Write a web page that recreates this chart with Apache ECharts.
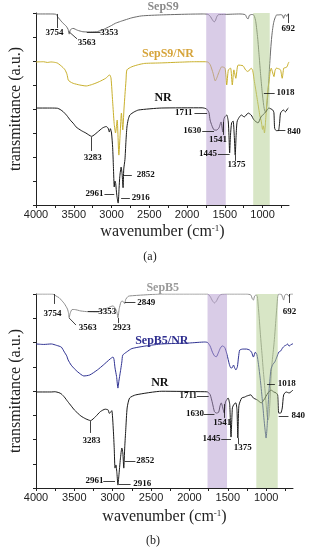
<!DOCTYPE html>
<html><head><meta charset="utf-8">
<script src="https://cdn.jsdelivr.net/npm/echarts@6/dist/echarts.min.js"></script>
<style>html,body{margin:0;padding:0;background:#fff}#c{width:309px;height:550px}</style>
</head><body><div id="c"></div>
<script>
// ---------- DATA (wavenumber cm-1, transmittance in axis units 0..8) ----------
const xTicks = [4000,3750,3500,3250,3000,2750,2500,2250,2000,1750,1500,1250,1000,750];
const xLabels = [4000,3500,3000,2500,2000,1500,1000];

// Panel (a)
const sepS9_wn = [4000,3790,3730,3715,3690,3650,3600,3575,3560,3545,3510,3450,3380,3300,3200,3130,3077,3000,2950,2880,2822,2731,2600,2340,2000,1780,1720,1690,1665,1640,1625,1605,1585,1500,1300,1230,1205,1190,1175,1140,1112,1090,1065,1045,1025,1005,985,970,957,945,930,918,905,892,879,866,853,840,827,814,790,760,735,722,710,695,680,665,650];
const sepS9_T  = [7.96,7.96,7.94,7.85,7.75,7.6,7.45,7.32,7.12,7.3,7.36,7.28,7.22,7.21,7.22,7.28,7.36,7.48,7.57,7.65,7.71,7.8,7.88,7.92,7.95,7.96,7.94,7.85,7.72,7.63,7.68,7.85,7.93,7.94,7.96,7.93,7.78,7.76,7.9,7.94,7.9,7.64,6.96,6.2,5.4,4.7,4.15,3.9,3.88,4.1,4.6,5.2,5.9,6.5,7.0,7.35,7.6,7.75,7.85,7.92,7.92,7.93,7.9,7.78,7.9,7.93,7.86,7.95,7.96];

const sepS9NR_wn = [4000,3900,3850,3800,3767,3720,3680,3640,3615,3590,3573,3551,3508,3421,3335,3249,3162,3077,3025,3007,2985,2965,2947,2925,2903,2885,2869,2851,2835,2822,2808,2796,2731,2640,2559,2342,2100,1900,1760,1720,1691,1656,1626,1605,1582,1540,1497,1475,1453,1423,1401,1380,1354,1324,1259,1225,1194,1151,1130,1108,1090,1070,1050,1035,1018,1000,990,975,960,945,930,914,900,885,870,849,835,818,790,762,740,720,700,676,660,650];
const sepS9NR_T  = [5.96,5.97,5.94,5.96,5.95,5.92,5.83,5.72,5.63,5.45,5.21,5.14,5.07,5.0,4.96,5.03,5.14,5.28,5.42,5.29,4.3,3.4,3.0,3.54,2.08,3.0,3.83,3.13,4.0,4.6,5.2,5.63,5.76,5.85,5.9,5.92,5.95,5.97,5.97,5.95,5.83,5.5,5.17,5.3,5.5,5.76,5.7,5.0,5.63,5.7,5.0,5.63,5.28,5.83,5.8,5.63,5.56,5.7,5.6,5.14,4.8,4.4,4.0,3.7,3.5,3.15,3.3,3.0,3.5,4.2,4.8,5.14,5.55,5.7,5.55,5.35,5.6,5.7,5.68,5.63,5.28,5.7,5.72,5.76,5.9,5.96];

const nrA_wn = [4000,3800,3715,3680,3637,3590,3547,3500,3469,3400,3340,3262,3230,3184,3119,3070,3045,3029,3015,3000,2985,2975,2964,2955,2945,2930,2912,2900,2890,2873,2860,2847,2838,2822,2810,2796,2780,2757,2700,2640,2342,1800,1740,1710,1695,1670,1643,1610,1578,1550,1527,1514,1501,1475,1455,1445,1436,1425,1410,1390,1375,1362,1350,1335,1281,1242,1190,1151,1112,1060,1021,957,918,866,850,840,820,790,775,762,724,698,659,650];
const nrA_T  = [4.04,4.04,4.03,3.98,3.88,3.72,3.54,3.38,3.25,3.1,3.0,2.86,2.92,3.04,3.21,3.27,3.2,3.04,3.18,3.0,2.4,1.6,0.75,1.0,0.9,0.4,0.08,0.7,1.2,1.58,1.3,0.72,1.5,1.9,2.6,3.25,3.55,3.75,3.88,3.96,4.04,4.05,4.0,3.85,3.54,3.3,3.13,3.12,3.21,3.46,3.04,3.55,3.67,3.75,3.5,2.9,2.17,2.9,3.42,3.5,2.9,2.08,2.9,3.5,3.75,3.67,3.83,3.75,3.54,3.42,3.67,3.88,4.04,3.96,3.85,3.2,3.1,3.1,3.4,3.83,3.96,3.88,4.04,4.04];

// Panel (b)
const sepB5_wn = [4000,3800,3765,3740,3700,3670,3630,3590,3575,3568,3555,3530,3500,3415,3326,3200,3140,3072,2996,2965,2945,2932,2915,2895,2881,2860,2845,2830,2800,2780,2600,2360,2000,1800,1763,1730,1700,1674,1650,1620,1590,1500,1250,1200,1180,1166,1150,1128,1115,1103,1090,1077,1064,1052,1039,1026,1014,1001,988,975,963,950,937,925,912,899,887,874,861,849,836,800,785,772,760,740,715,700,685,650];
const sepB5_T  = [8.0,8.0,7.98,7.92,7.85,7.75,7.6,7.38,7.2,7.02,7.2,7.36,7.36,7.3,7.27,7.26,7.33,7.42,7.51,7.4,7.25,7.02,7.4,7.65,7.71,7.68,7.6,7.78,7.9,7.92,7.96,8.0,8.0,8.0,8.0,7.9,7.72,7.63,7.7,7.88,7.98,8.0,8.0,7.96,7.8,7.75,7.92,7.96,7.9,7.5,7.0,6.43,5.9,5.45,4.9,4.45,4.0,3.5,3.0,2.8,2.95,3.6,4.5,5.1,5.5,5.9,6.35,6.9,7.45,7.9,8.0,7.98,7.85,7.75,7.92,8.0,7.96,7.9,8.0,8.0];

const sepB5NR_wn = [4000,3900,3800,3730,3670,3631,3600,3581,3542,3500,3453,3377,3300,3199,3123,3034,2996,2983,2970,2950,2932,2920,2907,2895,2881,2869,2818,2750,2564,2360,2000,1800,1763,1730,1700,1674,1650,1620,1600,1573,1540,1510,1480,1460,1446,1425,1410,1395,1375,1360,1344,1300,1255,1217,1190,1166,1141,1120,1100,1077,1052,1030,1014,1001,988,976,963,950,937,912,887,861,836,811,785,760,734,722,700,683,650];
const sepB5NR_T  = [5.94,5.92,5.94,5.88,5.81,5.61,5.45,5.28,5.07,4.92,4.78,4.62,4.66,4.87,5.07,5.32,5.4,5.3,4.95,4.6,4.12,4.4,4.66,4.9,5.2,5.48,5.61,5.75,5.86,5.94,5.98,6.02,6.0,5.85,5.6,5.45,5.41,5.6,5.75,5.86,5.8,5.5,5.1,4.95,4.95,5.07,4.95,4.87,5.0,5.4,5.69,5.73,5.73,5.69,5.6,5.4,5.6,5.5,5.1,4.5,3.7,2.9,2.4,2.06,2.5,3.3,4.0,4.5,4.9,5.1,5.2,5.4,5.6,5.65,5.78,5.86,5.9,5.94,5.85,5.9,5.95];

const nrB_wn = [4000,3800,3754,3700,3670,3630,3585,3540,3500,3415,3350,3288,3225,3161,3098,3060,3045,3034,3012,2992,2980,2970,2958,2945,2932,2920,2900,2881,2868,2856,2843,2830,2812,2780,2700,2360,1800,1763,1730,1700,1674,1650,1620,1600,1585,1565,1547,1530,1496,1475,1458,1440,1420,1395,1380,1369,1355,1319,1280,1255,1200,1166,1115,1064,1030,976,937,900,870,850,836,810,790,772,740,700,650];
const nrB_T  = [3.96,3.96,3.97,3.93,3.88,3.75,3.56,3.38,3.22,2.97,2.85,2.78,2.94,3.15,3.25,3.22,3.08,3.1,3.19,2.39,1.6,0.82,0.95,0.6,0.12,0.5,1.2,1.65,1.45,0.82,1.7,2.4,3.3,3.71,3.84,3.99,3.97,3.96,3.85,3.5,3.15,3.09,3.12,3.4,3.51,3.3,3.09,3.55,3.71,3.45,2.1,3.3,3.45,3.51,3.2,2.06,3.4,3.71,3.75,3.79,3.84,3.71,3.63,3.51,3.63,3.92,4.04,3.96,3.92,3.84,3.09,3.09,3.3,3.84,3.96,3.92,4.04];

// Peak annotations: [text, wn, y, align]
const peakTextA = [['3754',3754,7.17,'center'],['3563',3327,6.75,'center'],['3353',3029,7.17,'center'],['692',659,7.33,'center'],['1018',814,4.67,'left'],['1711',1928,3.83,'right'],['1630',1811,3.08,'right'],['1541',1591,2.71,'center'],['1445',1604,2.125,'right'],['1375',1345,1.67,'center'],['840',672,3.04,'left'],['3283',3249,1.96,'center'],['2961',3106,0.46,'right'],['2916',2731,0.29,'left'],['2852',2666,1.25,'left']];
const peakLineA = [[3715,7.96,3715,7.375],[3560,7.21,3456,6.92],[3327,7.21,3145,7.21],[659,7.96,659,7.58],[983,4.67,840,4.67],[1902,3.83,1734,3.83],[1799,3.08,1643,3.08],[1527,3.46,1527,2.92],[1591,2.125,1436,2.125],[1358,2.08,1358,1.83],[801,3.125,698,3.125],[3262,2.83,3262,2.25],[3094,0.46,2964,0.46],[2873,0.29,2757,0.29],[2835,1.25,2731,1.25]];
const peakTextB = [['3754',3784,7.18,'center'],['3563',3326,6.6,'center'],['3353',3072,7.26,'center'],['2923',2881,6.6,'center'],['2849',2564,7.63,'center'],['692',696,7.26,'center'],['1018',733,4.29,'center'],['1711',2017,3.79,'center'],['1630',1928,3.05,'center'],['1541',1572,2.68,'center'],['1445',1712,2.02,'center'],['1375',1306,1.65,'center'],['840',670,2.97,'left'],['3283',3276,1.94,'center'],['2961',3237,0.29,'center'],['2916',2615,0.165,'center'],['2852',2576,1.11,'center']];
const peakLineB = [[3759,8.0,3759,7.59],[3568,7.01,3479,6.72],[3326,7.3,3174,7.3],[2932,7.01,2932,6.8],[2843,7.67,2704,7.67],[696,8.0,696,7.63],[988,4.29,886,4.29],[1903,3.79,1750,3.79],[1814,3.05,1674,3.05],[1547,3.46,1547,2.89],[1585,2.02,1458,2.02],[1369,2.06,1369,1.81],[836,2.97,709,2.97],[3288,2.76,3288,2.27],[3123,0.29,2970,0.29],[2920,0.165,2767,0.165],[2843,1.11,2704,1.11]];

// Series names: [text, wn, y, vAlign, color]
const seriesTextA = [['SepS9',2317,8,'bottom','#8a8a8a'],['SepS9/NR',2252,6.29,'middle','#d6a43a'],['NR',2317,4.46,'middle','#111']];
const seriesTextB = [['SepB5',2348,8,'bottom','#9a9a9a'],['SepB5/NR',2360,6.06,'middle','#2e2e8f'],['NR',2386,4.33,'middle','#111']];

// Highlight bands [from, to]
const bandsA = [[1746,1488],[1124,905]];
const bandsB = [[1764,1510],[1128,849]];

// ---------- CHART ----------
const SERIF = "'Liberation Serif','Times New Roman',serif";
const SANS = "'Liberation Sans',Arial,sans-serif";
function pairs(w,t){return w.map((v,i)=>[v,t[i]]);}
function textPts(list){
  return list.map(a=>({coord:[a[1],a[2]],symbol:'circle',symbolSize:1,itemStyle:{color:'rgba(0,0,0,0)'},
    label:{show:true,position:'inside',formatter:a[0],align:a[3],verticalAlign:'middle',color:'#111',fontSize:9,fontWeight:'bold',fontFamily:SERIF}}));
}
function namePts(list){
  return list.map(a=>({coord:[a[1],a[2]],symbol:'circle',symbolSize:1,itemStyle:{color:'rgba(0,0,0,0)'},
    label:{show:true,position:'inside',formatter:a[0],align:'center',verticalAlign:a[3],color:a[4],fontSize:12,fontWeight:'bold',fontFamily:SERIF}}));
}
function leaders(list){return list.map(l=>[{coord:[l[0],l[1]]},{coord:[l[2],l[3]]}]);}
function bands(list){
  const cols=['rgba(179,154,208,0.5)','rgba(177,205,141,0.5)'];
  return list.map((b,i)=>[{xAxis:b[0],itemStyle:{color:cols[i]}},{xAxis:b[1]}]);
}
function xAx(i,gap){
  return {gridIndex:i,type:'value',inverse:true,min:650,max:4000,
    axisLine:{show:true,onZero:false,lineStyle:{color:'#222',width:1}},
    axisTick:{show:true,inside:false,length:3,customValues:xTicks,lineStyle:{color:'#222'}},
    axisLabel:{customValues:xLabels,formatter:v=>String(v),fontSize:11,color:'#222',margin:4,fontFamily:SANS},
    splitLine:{show:false},
    name:'wavenumber (cm{s|-1})',nameLocation:'middle',nameGap:gap,
    nameTextStyle:{fontFamily:SERIF,fontSize:16,color:'#222',rich:{s:{fontFamily:SERIF,fontSize:9,color:'#222',verticalAlign:'top',lineHeight:9}}}};
}
function yAx(i){
  return {gridIndex:i,type:'value',min:0,max:8,interval:1,
    axisLine:{show:true,onZero:false,lineStyle:{color:'#222',width:1}},
    axisTick:{show:true,inside:false,length:3,lineStyle:{color:'#222'}},
    axisLabel:{show:false},splitLine:{show:false},
    name:'transmittance (a.u.)',nameLocation:'middle',nameGap:12,
    nameTextStyle:{fontFamily:SERIF,fontSize:16,color:'#222'}};
}
function line(i,w,t,color,extra){
  return Object.assign({type:'line',xAxisIndex:i,yAxisIndex:i,data:pairs(w,t),showSymbol:false,symbol:'none',
    smooth:0.2,lineStyle:{color:color,width:1},itemStyle:{color:color},z:2,silent:true},extra||{});
}
function markers(txt,lns,names,bnds){
  return {
    markArea:{silent:true,z:10,data:bands(bnds)},
    markLine:{silent:true,z:11,animation:false,symbol:['none','none'],lineStyle:{color:'#111',width:0.8,type:'solid'},label:{show:false},emphasis:{disabled:true},data:leaders(lns)},
    markPoint:{silent:true,z:12,animation:false,data:textPts(txt).concat(namePts(names))}
  };
}

const chart = echarts.init(document.getElementById('c'),null,{renderer:'canvas'});
chart.setOption({
  animation:false,
  backgroundColor:'#fff',
  grid:[{left:30,top:13,width:259,height:192},{left:29,top:294,width:264,height:194}],
  xAxis:[xAx(0,19),xAx(1,21)],
  yAxis:[yAx(0),yAx(1)],
  series:[
    line(0,sepS9_wn,sepS9_T,'#6b6b6b'),
    line(0,sepS9NR_wn,sepS9NR_T,'#c9b02c'),
    line(0,nrA_wn,nrA_T,'#1a1a1a',markers(peakTextA,peakLineA,seriesTextA,bandsA)),
    line(1,sepB5_wn,sepB5_T,'#8e8e8e'),
    line(1,sepB5NR_wn,sepB5NR_T,'#2e3192'),
    line(1,nrB_wn,nrB_T,'#1a1a1a',markers(peakTextB,peakLineB,seriesTextB,bandsB))
  ],
  graphic:[
    {type:'text',x:150,y:257,style:{text:'(a)',fill:'#222',font:'12px '+SERIF,textAlign:'center',textVerticalAlign:'middle'}},
    {type:'text',x:153,y:541,style:{text:'(b)',fill:'#222',font:'12px '+SERIF,textAlign:'center',textVerticalAlign:'middle'}}
  ]
});
</script></body></html>
